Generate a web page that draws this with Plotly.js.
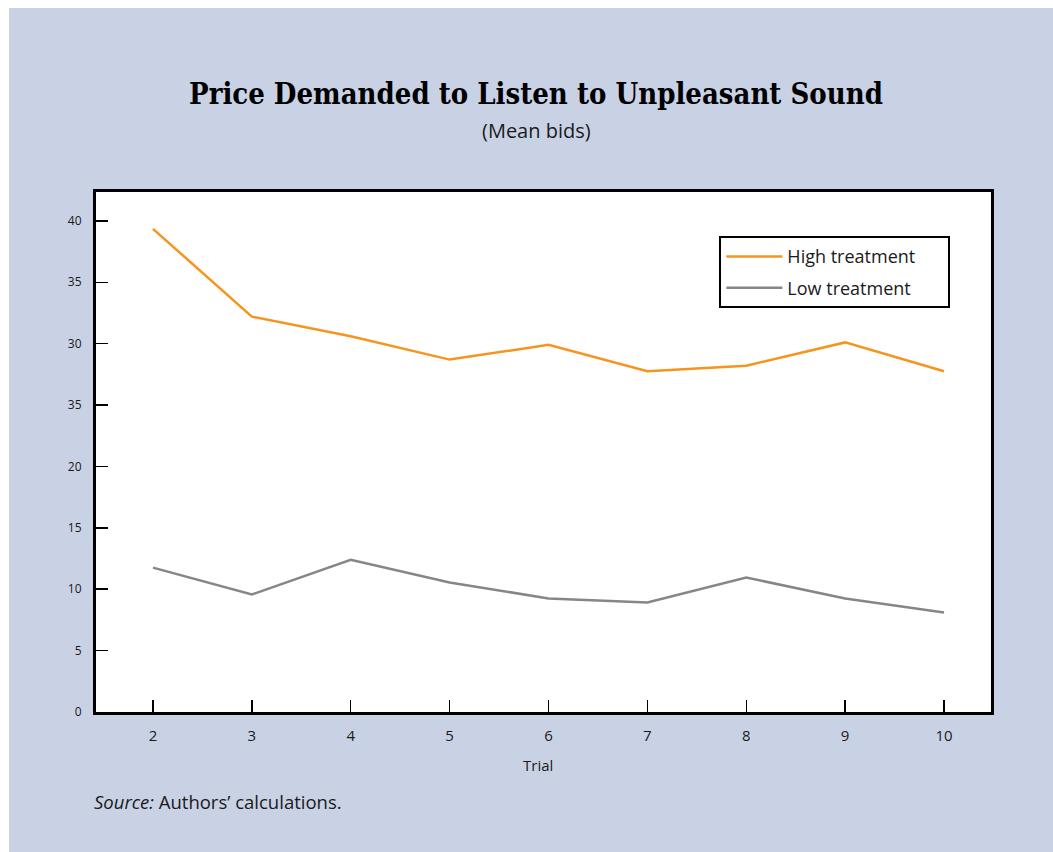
<!DOCTYPE html>
<html>
<head>
<meta charset="utf-8">
<script src="https://cdn.plot.ly/plotly-3.0.1.min.js"></script>
<style>
html,body{margin:0;padding:0;background:#ffffff;}
#chart{position:absolute;left:9px;top:8px;width:1044px;height:844px;}
</style>
</head>
<body>
<div id="chart"></div>
<script>
const trials = [2, 3, 4, 5, 6, 7, 8, 9, 10];
const highTreatment = [39.35, 32.2, 30.6, 28.7, 29.9, 27.75, 28.2, 30.1, 27.75];
const lowTreatment = [11.76, 9.57, 12.4, 10.55, 9.25, 8.92, 10.95, 9.25, 8.11];
const yTickVals = [0, 5, 10, 15, 20, 25, 30, 35, 40];
const yTickText = ["0", "5", "10", "15", "20", "35", "30", "35", "40"];
const xTickVals = [2, 3, 4, 5, 6, 7, 8, 9, 10];
const seriesNames = ["High treatment", "Low treatment"];

const font = "Open Sans, DejaVu Sans, sans-serif";
const pad = "\u00a0\u00a0\u00a0\u00a0\u00a0\u00a0";

const traces = [
  {x: trials, y: highTreatment, name: seriesNames[0] + pad, type: "scatter", mode: "lines",
   legendgroup: "a", line: {color: "#f7941d", width: 2.5}},
  {x: trials, y: lowTreatment, name: seriesNames[1] + pad, type: "scatter", mode: "lines",
   legendgroup: "b", line: {color: "#858688", width: 2.5}}
];

const layout = {
  width: 1044, height: 844,
  paper_bgcolor: "#c9d2e5",
  plot_bgcolor: "#ffffff",
  margin: {l: 87, r: 62, t: 184, b: 140},
  showlegend: true,
  legend: {x: 0.6965, y: 0.915, xanchor: "left", yanchor: "top",
    bgcolor: "#ffffff", bordercolor: "#000000", borderwidth: 2,
    font: {family: font, size: 18, color: "#1a1a1a"}, tracegroupgap: 5,
    itemwidth: 56},
  xaxis: {range: [1.424, 10.475], tickvals: xTickVals, ticks: "inside", ticklen: 12,
    tickwidth: 1.5, tickcolor: "#000", showgrid: false, zeroline: false,
    showline: true, linewidth: 3, linecolor: "#000", mirror: true, ticklabelstandoff: 8,
    tickfont: {family: font, size: 15, color: "#1a1a1a"}, fixedrange: true},
  yaxis: {range: [0, 42.35], tickvals: yTickVals, ticktext: yTickText, ticks: "inside", ticklen: 12,
    tickwidth: 1.5, tickcolor: "#000", showgrid: false, zeroline: false,
    showline: true, linewidth: 3, linecolor: "#000", mirror: true, ticklabelstandoff: 9,
    tickfont: {family: font, size: 12, color: "#1a1a1a"}, fixedrange: true},
  annotations: [
    {text: "<b>Price Demanded to Listen to Unpleasant Sound</b>", xref: "paper", yref: "paper",
     x: 0.492, y: 1.188, xanchor: "center", yanchor: "middle", showarrow: false,
     font: {family: "DejaVu Serif Condensed, DejaVu Serif, serif", size: 29, color: "#000"}},
    {text: "(Mean bids)", xref: "paper", yref: "paper",
     x: 0.492, y: 1.119, xanchor: "center", yanchor: "middle", showarrow: false,
     font: {family: font, size: 20, color: "#1a1a1a"}},
    {text: "Trial", xref: "paper", yref: "paper",
     x: 0.494, y: -0.1015, xanchor: "center", yanchor: "middle", showarrow: false,
     font: {family: font, size: 15, color: "#1a1a1a"}},
    {text: "<i>Source:</i> Authors’ calculations.", xref: "paper", yref: "paper",
     x: -0.004, y: -0.172, xanchor: "left", yanchor: "middle", showarrow: false,
     font: {family: font, size: 18.5, color: "#1a1a1a"}}
  ]
};

Plotly.newPlot("chart", traces, layout, {displayModeBar: false, staticPlot: true});
</script>
</body>
</html>
